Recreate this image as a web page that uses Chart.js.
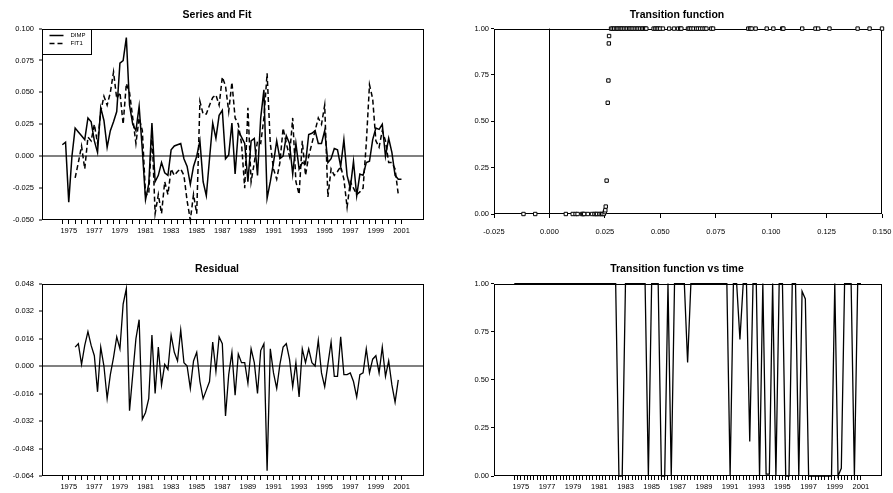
<!DOCTYPE html>
<html lang="en">
<head>
<meta charset="UTF-8">
<title>Series and Fit / Transition function</title>
<script src="https://cdn.jsdelivr.net/npm/chart.js"></script>
<style>
body { margin: 0; background: #fff; width: 893px; height: 493px; position: relative; overflow: hidden; }
canvas { position: absolute; }
</style>
</head>
<body>
<canvas id="fitChart" width="446" height="246" style="left:0;top:0"></canvas>
<canvas id="transChart" width="447" height="246" style="left:446px;top:0"></canvas>
<canvas id="residChart" width="446" height="247" style="left:0;top:246px"></canvas>
<canvas id="timeChart" width="447" height="247" style="left:446px;top:246px"></canvas>

<script>
// quarterly sample, first observation 1975Q1
const startYear = 1975;
const fitStart = 4;   // FIT1 and residual start 1976Q1

const dimp = [
  0.009, 0.011, -0.036, 0.000, 0.022, 0.019, 0.016, 0.013, 0.030, 0.027,
  0.012, 0.003, 0.038, 0.028, 0.007, 0.020, 0.027, 0.035, 0.073, 0.075,
  0.093, 0.040, 0.025, 0.020, 0.039, 0.005, -0.034, -0.022, 0.026, -0.020,
  -0.015, -0.005, -0.013, -0.015, 0.005, 0.008, 0.009, 0.010, -0.002, -0.008,
  -0.022, -0.008, 0.000, 0.012, -0.020, -0.031, -0.002, 0.026, 0.014, 0.032,
  0.036, -0.002, 0.001, 0.026, -0.014, 0.020, 0.015, 0.010, -0.020, 0.012,
  0.014, -0.015, 0.030, 0.052, -0.033, -0.020, -0.005, 0.012, -0.002, 0.000,
  0.016, 0.010, -0.014, 0.010, -0.010, -0.005, -0.006, 0.017, 0.018, 0.020,
  0.010, 0.010, 0.020, -0.005, -0.002, 0.006, 0.005, -0.008, 0.013, -0.015,
  -0.025, -0.004, -0.031, -0.014, -0.015, -0.005, -0.004, 0.013, 0.022, 0.021,
  0.025, 0.000, 0.014, 0.003, -0.015, -0.018, -0.018
];

const fit1 = [
  -0.017, -0.005, 0.008, -0.010, 0.015, 0.012, 0.025, 0.010, 0.035, 0.047,
  0.040, 0.050, 0.066, 0.045, 0.050, 0.025, 0.057, 0.050, 0.030, 0.010,
  0.030, 0.020, -0.030, -0.030, 0.020, -0.045, -0.030, -0.045, -0.020, -0.030,
  -0.010, -0.015, -0.012, -0.010, -0.015, -0.035, -0.050, -0.030, -0.045, 0.043,
  0.033, 0.033, 0.040, 0.046, 0.048, 0.040, 0.062, 0.055, 0.035, 0.058,
  0.030, 0.025, 0.010, -0.025, 0.038, -0.020, -0.005, 0.012, 0.010, 0.030,
  0.065, 0.010, -0.010, -0.018, -0.005, 0.022, 0.010, 0.000, 0.030, -0.020,
  -0.030, 0.012, -0.015, 0.000, 0.010, 0.020, 0.030, 0.025, 0.040, -0.032,
  -0.010, -0.015, -0.012, -0.008, -0.018, -0.040, -0.020, -0.025, -0.030, -0.028,
  -0.025, 0.010, 0.056, 0.045, 0.012, 0.007, 0.020, 0.012, -0.005, -0.005,
  -0.010, -0.030
];

const resid = [
  0.011, 0.013, 0.001, 0.012, 0.020, 0.012, 0.006, -0.015, 0.011, 0.000,
  -0.019, -0.005, 0.005, 0.017, 0.010, 0.036, 0.045, -0.026, -0.005, 0.016,
  0.027, -0.031, -0.027, -0.019, 0.018, -0.016, 0.011, -0.011, 0.001, -0.002,
  0.018, 0.008, 0.003, 0.021, 0.002, 0.000, -0.013, 0.003, 0.008, -0.009,
  -0.019, -0.014, -0.009, 0.014, -0.003, 0.017, 0.013, -0.029, -0.005, 0.008,
  -0.017, 0.007, 0.002, 0.002, -0.010, 0.010, 0.002, -0.016, 0.009, 0.013,
  -0.061, 0.010, -0.004, -0.013, 0.001, 0.011, 0.013, 0.004, -0.012, 0.002,
  -0.018, 0.010, 0.002, 0.010, 0.002, 0.000, 0.015, -0.004, -0.012, 0.001,
  0.014, -0.006, -0.006, 0.017, -0.005, -0.005, -0.004, -0.009, -0.018, -0.005,
  -0.004, 0.010, -0.004, 0.004, 0.006, -0.004, 0.011, -0.006, 0.003, -0.011,
  -0.021, -0.008
];

const transTime = [
  1, 1, 1, 1, 1, 1, 1, 1, 1, 1,
  1, 1, 1, 1, 1, 1, 1, 1, 1, 1,
  1, 1, 1, 1, 1, 1, 1, 1, 1, 1,
  1, 1, 0, 0, 1, 1, 1, 1, 1, 1,
  1, 0, 1, 1, 1, 0, 0, 1, 0, 1,
  1, 1, 1, 0.59, 1, 1, 1, 1, 1, 1,
  1, 1, 1, 1, 1, 1, 0, 1, 1, 0.71,
  1, 1, 0.18, 1, 1, 0, 1, 0.01, 0.01, 1,
  0, 1, 1, 0, 0, 1, 1, 0, 0.96, 0.92,
  0, 0, 0, 0, 0, 0, 0, 0, 1, 0,
  0.04, 1, 1, 1, 0, 1, 1
];

// transition function against the threshold variable
const threshX = [
  -0.0117, -0.0064, 0.0074, 0.0105, 0.0118, 0.0127, 0.0147, 0.0152, 0.0157, 0.0173,
  0.0192, 0.0203, 0.0210, 0.0215, 0.0225, 0.0232, 0.0238, 0.0245, 0.0250, 0.0252,
  0.0254, 0.0258, 0.0263, 0.0266, 0.0268, 0.0269,
  0.0278, 0.0285, 0.0292, 0.0300, 0.0305, 0.0312, 0.0318, 0.0325, 0.0330, 0.0338,
  0.0345, 0.0352, 0.0360, 0.0366, 0.0372, 0.0380, 0.0388, 0.0395, 0.0402, 0.0410,
  0.0418, 0.0425, 0.0432, 0.0437, 0.0470, 0.0478, 0.0485, 0.0492, 0.0500, 0.0512,
  0.0540, 0.0562, 0.0580, 0.0590, 0.0595, 0.0625, 0.0632, 0.0640, 0.0650, 0.0662,
  0.0670, 0.0680, 0.0690, 0.0700, 0.0708, 0.0730, 0.0738, 0.0897, 0.0905, 0.0912,
  0.0930, 0.0980, 0.1010, 0.1050, 0.1055, 0.1140, 0.1200, 0.1212, 0.1263, 0.1390,
  0.1444, 0.1500
];
const threshG = [
  0, 0, 0, 0, 0, 0, 0, 0, 0, 0,
  0, 0, 0, 0, 0, 0, 0, 0, 0.01, 0.02,
  0.04, 0.18, 0.60, 0.72, 0.92, 0.96,
  1, 1, 1, 1, 1, 1, 1, 1, 1, 1,
  1, 1, 1, 1, 1, 1, 1, 1, 1, 1,
  1, 1, 1, 1, 1, 1, 1, 1, 1, 1,
  1, 1, 1, 1, 1, 1, 1, 1, 1, 1,
  1, 1, 1, 1, 1, 1, 1, 1, 1, 1,
  1, 1, 1, 1, 1, 1, 1, 1, 1, 1,
  1, 1
];

Chart.defaults.font.family = '"Liberation Sans", Arial, sans-serif';
Chart.defaults.color = '#000';
Chart.defaults.animation = false;

const tickFont = { size: 7.5 };
const titleFont = { size: 10.5, weight: 'bold' };

function toPoints(values, offset) {
  return values.map((v, k) => ({ x: startYear + (k + offset) / 4, y: v }));
}

// avoid "-0.000" on the zero tick
function fmt(v, digits) {
  return (Math.abs(v) < 1e-9 ? 0 : v).toFixed(digits);
}

const framePlugin = {
  id: 'frame',
  beforeDatasetsDraw(chart) {
    const a = chart.chartArea, ctx = chart.ctx;
    ctx.save();
    ctx.strokeStyle = '#000';
    ctx.lineWidth = 1;
    ctx.strokeRect(Math.round(a.left) + 0.5, Math.round(a.top) + 0.5,
                   Math.round(a.width) - 1, Math.round(a.height) - 1);
    ctx.restore();
  }
};

const boxLegend = {
  id: 'boxLegend',
  afterDatasetsDraw(chart) {
    const a = chart.chartArea, ctx = chart.ctx;
    const x0 = Math.round(a.left) + 0.5, y0 = Math.round(a.top) + 0.5;
    ctx.save();
    ctx.fillStyle = '#fff';
    ctx.fillRect(x0, y0, 49, 25);
    ctx.strokeStyle = '#000';
    ctx.lineWidth = 1;
    ctx.strokeRect(x0, y0, 49, 25);
    chart.data.datasets.forEach((ds, k) => {
      const y = y0 + 6 + k * 8;
      ctx.setLineDash(ds.borderDash || []);
      ctx.lineWidth = 1.5;
      ctx.beginPath();
      ctx.moveTo(x0 + 7, y);
      ctx.lineTo(x0 + 21, y);
      ctx.stroke();
      ctx.setLineDash([]);
      ctx.font = '6px "Liberation Sans", Arial, sans-serif';
      ctx.textBaseline = 'middle';
      ctx.fillStyle = '#000';
      ctx.fillText(ds.label, x0 + 28, y);
    });
    ctx.restore();
  }
};

function timeAxis(min, max, step, height, pad, tickLen) {
  return {
    type: 'linear', min: min, max: max,
    afterBuildTicks: s => {
      const t = [];
      for (let v = startYear; v <= 2001.5; v += step) t.push({ value: v });
      s.ticks = t;
    },
    afterFit: s => { s.height = height; s.paddingLeft = 0; s.paddingRight = 0; },
    ticks: {
      autoSkip: false, maxRotation: 0, minRotation: 0, padding: pad, font: tickFont,
      callback: v => {
        const yr = Math.floor(v);
        return (v - yr === 0.5 && yr % 2 === 1) ? String(yr) : '';
      }
    },
    grid: { drawOnChartArea: false, tickLength: tickLen, tickColor: '#000', tickWidth: 1 },
    border: { display: false }
  };
}

function valueAxis(min, max, step, digits, width, pad, zeroColor, zeroWidth) {
  return {
    min: min, max: max,
    afterFit: s => { s.width = width; s.paddingTop = 0; s.paddingBottom = 0; },
    ticks: { stepSize: step, padding: pad, font: tickFont, callback: v => fmt(v, digits) },
    grid: {
      drawOnChartArea: !!zeroColor,
      color: c => (zeroColor && Math.abs(c.tick.value) < 1e-9) ? zeroColor : 'rgba(0,0,0,0)',
      lineWidth: zeroWidth || 1,
      tickLength: 3, tickColor: '#000', tickWidth: 1
    },
    border: { display: false }
  };
}

function titleOpts(text, top, bottom) {
  return { display: true, text: text, font: titleFont, color: '#000', padding: { top: top, bottom: bottom } };
}

// Series and Fit
new Chart(document.getElementById('fitChart'), {
  type: 'line',
  data: {
    datasets: [
      { label: 'DIMP', data: toPoints(dimp, 0), borderColor: '#000', borderWidth: 1.5,
        pointRadius: 0, tension: 0, clip: false },
      { label: 'FIT1', data: toPoints(fit1, fitStart), borderColor: '#000', borderWidth: 1.5,
        borderDash: [5, 3], pointRadius: 0, tension: 0, clip: false }
    ]
  },
  options: {
    responsive: false,
    layout: { padding: { left: 10, right: 22, top: 0, bottom: 6 } },
    plugins: { legend: { display: false }, tooltip: { enabled: false },
               title: titleOpts('Series and Fit', 9, 7) },
    scales: {
      x: timeAxis(1973.41, 2003.26, 0.5, 20, 2, 4),
      y: valueAxis(-0.05, 0.1, 0.025, 3, 32, 5, '#808080', 2)
    }
  },
  plugins: [framePlugin, boxLegend]
});

// Transition function
new Chart(document.getElementById('transChart'), {
  type: 'scatter',
  data: {
    datasets: [{
      data: threshX.map((x, k) => ({ x: x, y: threshG[k] })),
      pointStyle: 'rect', pointRadius: 2.4, borderWidth: 1,
      borderColor: '#000', backgroundColor: '#fff', clip: false
    }]
  },
  options: {
    responsive: false,
    layout: { padding: { left: 26, right: 11, top: 0, bottom: 8 } },
    plugins: { legend: { display: false }, tooltip: { enabled: false },
               title: titleOpts('Transition function', 9, 7) },
    scales: {
      x: {
        type: 'linear', min: -0.025, max: 0.15,
        afterFit: s => { s.height = 24; s.paddingLeft = 0; s.paddingRight = 0; },
        ticks: { stepSize: 0.025, padding: 9, maxRotation: 0, font: tickFont, callback: v => fmt(v, 3) },
        grid: {
          drawOnChartArea: true,
          color: c => Math.abs(c.tick.value) < 1e-9 ? '#000' : 'rgba(0,0,0,0)',
          lineWidth: 1, tickLength: 4, tickColor: '#000', tickWidth: 1
        },
        border: { display: false }
      },
      y: valueAxis(0, 1, 0.25, 2, 22, 2)
    }
  },
  plugins: [framePlugin]
});

// Residual
new Chart(document.getElementById('residChart'), {
  type: 'line',
  data: {
    datasets: [{ label: 'Residual', data: toPoints(resid, fitStart), borderColor: '#000',
                 borderWidth: 1.3, pointRadius: 0, tension: 0, clip: false }]
  },
  options: {
    responsive: false,
    layout: { padding: { left: 10, right: 22, top: 0, bottom: 1 } },
    plugins: { legend: { display: false }, tooltip: { enabled: false },
               title: titleOpts('Residual', 17, 8) },
    scales: {
      x: timeAxis(1973.41, 2003.26, 0.5, 16, 2, 4),
      y: valueAxis(-0.064, 0.048, 0.016, 3, 32, 5, '#808080', 2)
    }
  },
  plugins: [framePlugin]
});

// Transition function vs time
new Chart(document.getElementById('timeChart'), {
  type: 'line',
  data: {
    datasets: [{ label: 'G', data: toPoints(transTime, 0), borderColor: '#000',
                 borderWidth: 1.3, pointRadius: 0, tension: 0, clip: false }]
  },
  options: {
    responsive: false,
    layout: { padding: { left: 26, right: 11, top: 0, bottom: 1 } },
    plugins: { legend: { display: false }, tooltip: { enabled: false },
               title: titleOpts('Transition function vs time', 17, 8) },
    scales: {
      x: timeAxis(1973.45, 2003.11, 0.25, 16, 2, 4),
      y: valueAxis(0, 1, 0.25, 2, 22, 2)
    }
  },
  plugins: [framePlugin]
});
</script>
</body>
</html>
